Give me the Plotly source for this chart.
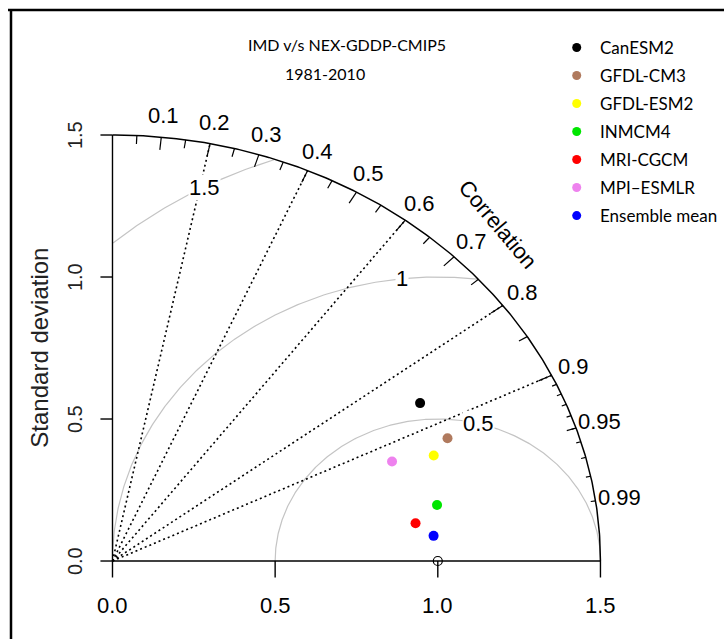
import numpy as np
import plotly.graph_objects as go

# ---------------- data ----------------
models = ["CanESM2", "GFDL-CM3", "GFDL-ESM2", "INMCM4", "MRI-CGCM", "MPI\u2013ESMLR", "Ensemble mean"]
colors = ["#000000", "#b07a5e", "#ffff00", "#00e600", "#ff0000", "#ee82ee", "#0000ff"]
std_dev = [1.097, 1.117, 1.055, 1.017, 0.941, 0.928, 0.991]
correlation = [0.862, 0.922, 0.936, 0.981, 0.990, 0.926, 0.996]
ref_sd = 1.0
max_sd = 1.5
sd_ticks = [0.0, 0.5, 1.0, 1.5]
sd_tick_labels = ["0.0", "0.5", "1.0", "1.5"]
corr_lines = [0.2, 0.4, 0.6, 0.8, 0.9]
corr_labels = [0.1, 0.2, 0.3, 0.4, 0.5, 0.6, 0.7, 0.8, 0.9, 0.95, 0.99]
big_ticks = [0.1, 0.2, 0.3, 0.4, 0.5, 0.6, 0.7, 0.8, 0.9]
med_ticks = [0.05, 0.15, 0.25, 0.35, 0.45, 0.55, 0.65, 0.75, 0.85, 0.95]
small_ticks = [0.91, 0.92, 0.93, 0.94, 0.95, 0.96, 0.97, 0.98, 0.99]
rms_levels = [0.5, 1.0, 1.5]
rms_label_text = ["0.5", "1", "1.5"]
title_lines = ["IMD v/s NEX-GDDP-CMIP5", "1981-2010"]

NUM_FONT = "Liberation Sans Narrow, Arial Narrow, Liberation Sans, Arial"
CAL_FONT = "Lato, Open Sans, sans-serif"

fig = go.Figure()

def add_line(xs, ys, color="black", width=1.2, dash="solid"):
    fig.add_trace(go.Scatter(x=xs, y=ys, mode="lines", hoverinfo="skip", showlegend=False,
                             line=dict(color=color, width=width, dash=dash)))

# RMS (centred) contours, clipped to outer arc
for g in rms_levels:
    th = np.linspace(0, np.pi, 400)
    xc = ref_sd + g * np.cos(th)
    yc = g * np.sin(th)
    keep = (xc >= 0) & (xc ** 2 + yc ** 2 <= max_sd ** 2 + 1e-9)
    add_line(xc[keep], yc[keep], color="#c4c4c4", width=1.2)

# correlation dotted lines
xs, ys = [], []
for c in corr_lines:
    xs += [0, max_sd * c, None]
    ys += [0, max_sd * np.sqrt(1 - c ** 2), None]
add_line(xs, ys, color="black", width=1.6, dash="2px,3px")

# outer arc
th = np.linspace(0, np.pi / 2, 300)
add_line(max_sd * np.cos(th), max_sd * np.sin(th), width=1.5)

# axes lines
add_line([0, 0], [0, max_sd], width=1.4)
add_line([0, max_sd], [0, 0], width=1.4)
# axis ticks
xs, ys = [], []
for t in sd_ticks:
    xs += [t, t, None]; ys += [0, -0.058, None]
add_line(xs, ys, width=1.4)
xs, ys = [], []
for t in sd_ticks:
    xs += [0, -0.037, None]; ys += [t, t, None]
add_line(xs, ys, width=1.4)

# arc ticks
for ticks, frac in [(big_ticks, 0.97), (med_ticks, 0.98), (small_ticks, 0.99)]:
    xs, ys = [], []
    for c in ticks:
        s = np.sqrt(1 - c ** 2)
        xs += [max_sd * c, max_sd * frac * c, None]
        ys += [max_sd * s, max_sd * frac * s, None]
    add_line(xs, ys, width=1.2)

# reference point
fig.add_trace(go.Scatter(x=[ref_sd], y=[0], mode="markers", hoverinfo="skip", showlegend=False,
                         marker=dict(symbol="circle-open", size=9, color="black", line=dict(width=1.2))))

# model points
px_ = [s * c for s, c in zip(std_dev, correlation)]
py_ = [s * np.sqrt(1 - c ** 2) for s, c in zip(std_dev, correlation)]
fig.add_trace(go.Scatter(x=px_, y=py_, mode="markers", showlegend=False, text=models,
                         marker=dict(size=10, color=colors)))

# legend (manual)
leg_x, leg_y0, leg_dy = 1.427, 1.808, 0.0986
fig.add_trace(go.Scatter(x=[leg_x] * len(models), y=[leg_y0 - i * leg_dy for i in range(len(models))],
                         mode="markers", showlegend=False, hoverinfo="skip",
                         marker=dict(size=9, color=colors)))
ann = []
for i, m in enumerate(models):
    ann.append(dict(x=leg_x + 0.065, y=leg_y0 - i * leg_dy, text=m, xanchor="left", yanchor="middle",
                    showarrow=False, font=dict(family=CAL_FONT, size=17, color="black")))

# titles
ann.append(dict(x=0.721, y=1.820, text=title_lines[0], showarrow=False,
                font=dict(family=CAL_FONT, size=16, color="black")))
ann.append(dict(x=0.653, y=1.718, text=title_lines[1], showarrow=False,
                font=dict(family=CAL_FONT, size=16, color="black")))

# correlation labels
for c in corr_labels:
    r = max_sd * 1.05
    ann.append(dict(x=r * c, y=r * np.sqrt(1 - c ** 2), text=str(c), showarrow=False,
                    font=dict(family=NUM_FONT, size=22, color="black")))
ann.append(dict(x=0.79 * max_sd, y=0.79 * max_sd, text="Correlation", textangle=50, showarrow=False,
                font=dict(family=NUM_FONT, size=22, color="black")))

# RMS labels
for g, lab, idx in zip(rms_levels, rms_label_text, [44, 56, 69]):
    a = idx * 0.03
    ann.append(dict(x=ref_sd + g * np.cos(a), y=g * np.sin(a), text=lab, showarrow=False,
                    bgcolor="white", borderpad=0,
                    font=dict(family=NUM_FONT, size=22, color="black")))

# axis tick labels
for t, lab in zip(sd_ticks, sd_tick_labels):
    ann.append(dict(x=t, y=-0.155, text=lab, showarrow=False,
                    font=dict(family=NUM_FONT, size=22, color="black")))
    ann.append(dict(x=-0.115, y=t, text=lab, textangle=-90, showarrow=False,
                    font=dict(family="Liberation Sans, Arial", size=20, color="#222222")))
ann.append(dict(x=-0.223, y=0.751, text="Standard deviation", textangle=-90, showarrow=False,
                font=dict(family="Liberation Sans, Arial", size=24, color="#222222")))

# frame lines (left and top)
shapes = [
    dict(type="line", xref="paper", yref="paper", x0=8 / 724, x1=1, y0=1 - 10 / 639, y1=1 - 10 / 639,
         line=dict(color="black", width=2.5)),
    dict(type="line", xref="paper", yref="paper", x0=11 / 724, x1=11 / 724, y0=0, y1=1 - 10 / 639,
         line=dict(color="black", width=2.5)),
]

fig.update_layout(
    width=724, height=639, autosize=False,
    margin=dict(l=0, r=0, t=0, b=0),
    paper_bgcolor="white", plot_bgcolor="white",
    xaxis=dict(range=[-0.3458, 1.8798], visible=False, fixedrange=True),
    yaxis=dict(range=[-0.2746, 1.9754], visible=False, fixedrange=True),
    annotations=ann, shapes=shapes, showlegend=False,
)

fig.write_html("out.html")
